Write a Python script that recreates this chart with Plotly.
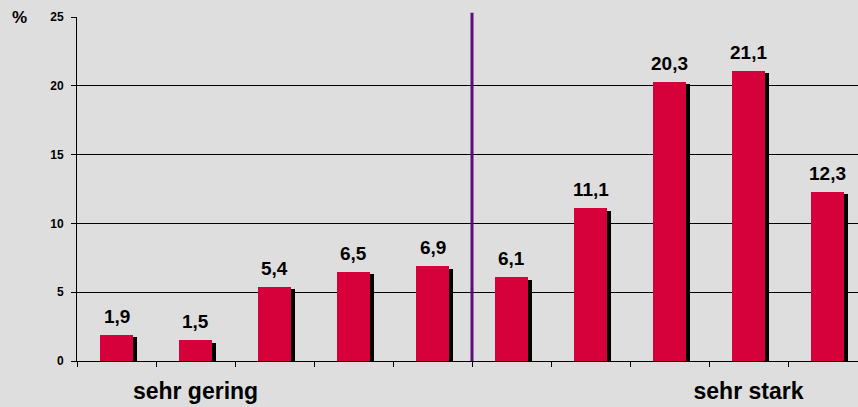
import plotly.graph_objects as go

categories = [1, 2, 3, 4, 5, 6, 7, 8, 9, 10]
values = [1.9, 1.5, 5.4, 6.5, 6.9, 6.1, 11.1, 20.3, 21.1, 12.3]
tick_labels = ["", "sehr gering", "", "", "", "", "", "", "sehr stark", ""]
y_ticks = [0, 5, 10, 15, 20, 25]
divider_after = 5  # divider between category 5 and 6

labels = [f"{v:.1f}".replace(".", ",") for v in values]

BAR_COLOR = "#D6003A"
BG = "#DEDEDE"
FONT = "Liberation Sans, Arial"
BAR_W = 0.42
SHADOW_DX = 0.045
SHADOW_DY = 0.18

fig = go.Figure()
# shadow
fig.add_trace(go.Bar(
    x=[c + SHADOW_DX for c in categories],
    y=[v - SHADOW_DY for v in values],
    width=BAR_W,
    marker=dict(color="black", line=dict(width=0)),
    hoverinfo="skip",
    showlegend=False,
))
# bars
fig.add_trace(go.Bar(
    x=categories,
    y=values,
    width=BAR_W,
    marker=dict(color=BAR_COLOR, line=dict(width=0)),
    showlegend=False,
))

for c, v, t in zip(categories, values, labels):
    fig.add_annotation(
        x=c, y=v, text=t, xref="x", yref="y",
        xanchor="center", yanchor="bottom", yshift=6,
        showarrow=False,
        font=dict(family=FONT, size=19, color="black", weight="bold"),
    )

fig.add_shape(
    type="line",
    x0=divider_after + 0.5, x1=divider_after + 0.5,
    y0=0, y1=1.012,
    xref="x", yref="paper",
    line=dict(color="#5E0C7E", width=3),
)

fig.add_annotation(
    text="%", xref="paper", yref="paper",
    x=-0.073, y=1.0, xanchor="center", yanchor="middle",
    showarrow=False,
    font=dict(family=FONT, size=17, color="black", weight="bold"),
)

fig.update_layout(
    width=858, height=407,
    margin=dict(l=77, r=0, t=17, b=46),
    paper_bgcolor=BG,
    plot_bgcolor=BG,
    barmode="overlay",
    bargap=0,
)

fig.update_xaxes(
    range=[0.5, 10.386],
    tickvals=categories,
    ticktext=tick_labels,
    ticks="",
    tickfont=dict(family=FONT, size=23, color="black", weight="bold"),
    showgrid=False,
    showline=True, linecolor="black", linewidth=1,
    zeroline=False,
    automargin=False,
    minor=dict(tickvals=[c - 0.5 for c in categories], ticks="outside", ticklen=5,
               tickcolor="black", tickwidth=1, showgrid=False),
    ticklabelstandoff=9,
)

fig.update_yaxes(
    range=[0, 25],
    tickvals=y_ticks,
    ticks="outside", ticklen=5, tickcolor="black",
    tickfont=dict(family=FONT, size=12, color="black", weight="bold"),
    showgrid=True, gridcolor="black", gridwidth=1,
    showline=True, linecolor="black", linewidth=1,
    zeroline=False,
    automargin=False,
    ticklabelstandoff=5,
)

fig.write_html(
    "out.html",
    config={"displayModeBar": False},
    post_script="document.body.style.margin='0';document.body.style.background='#DEDEDE';",
)
